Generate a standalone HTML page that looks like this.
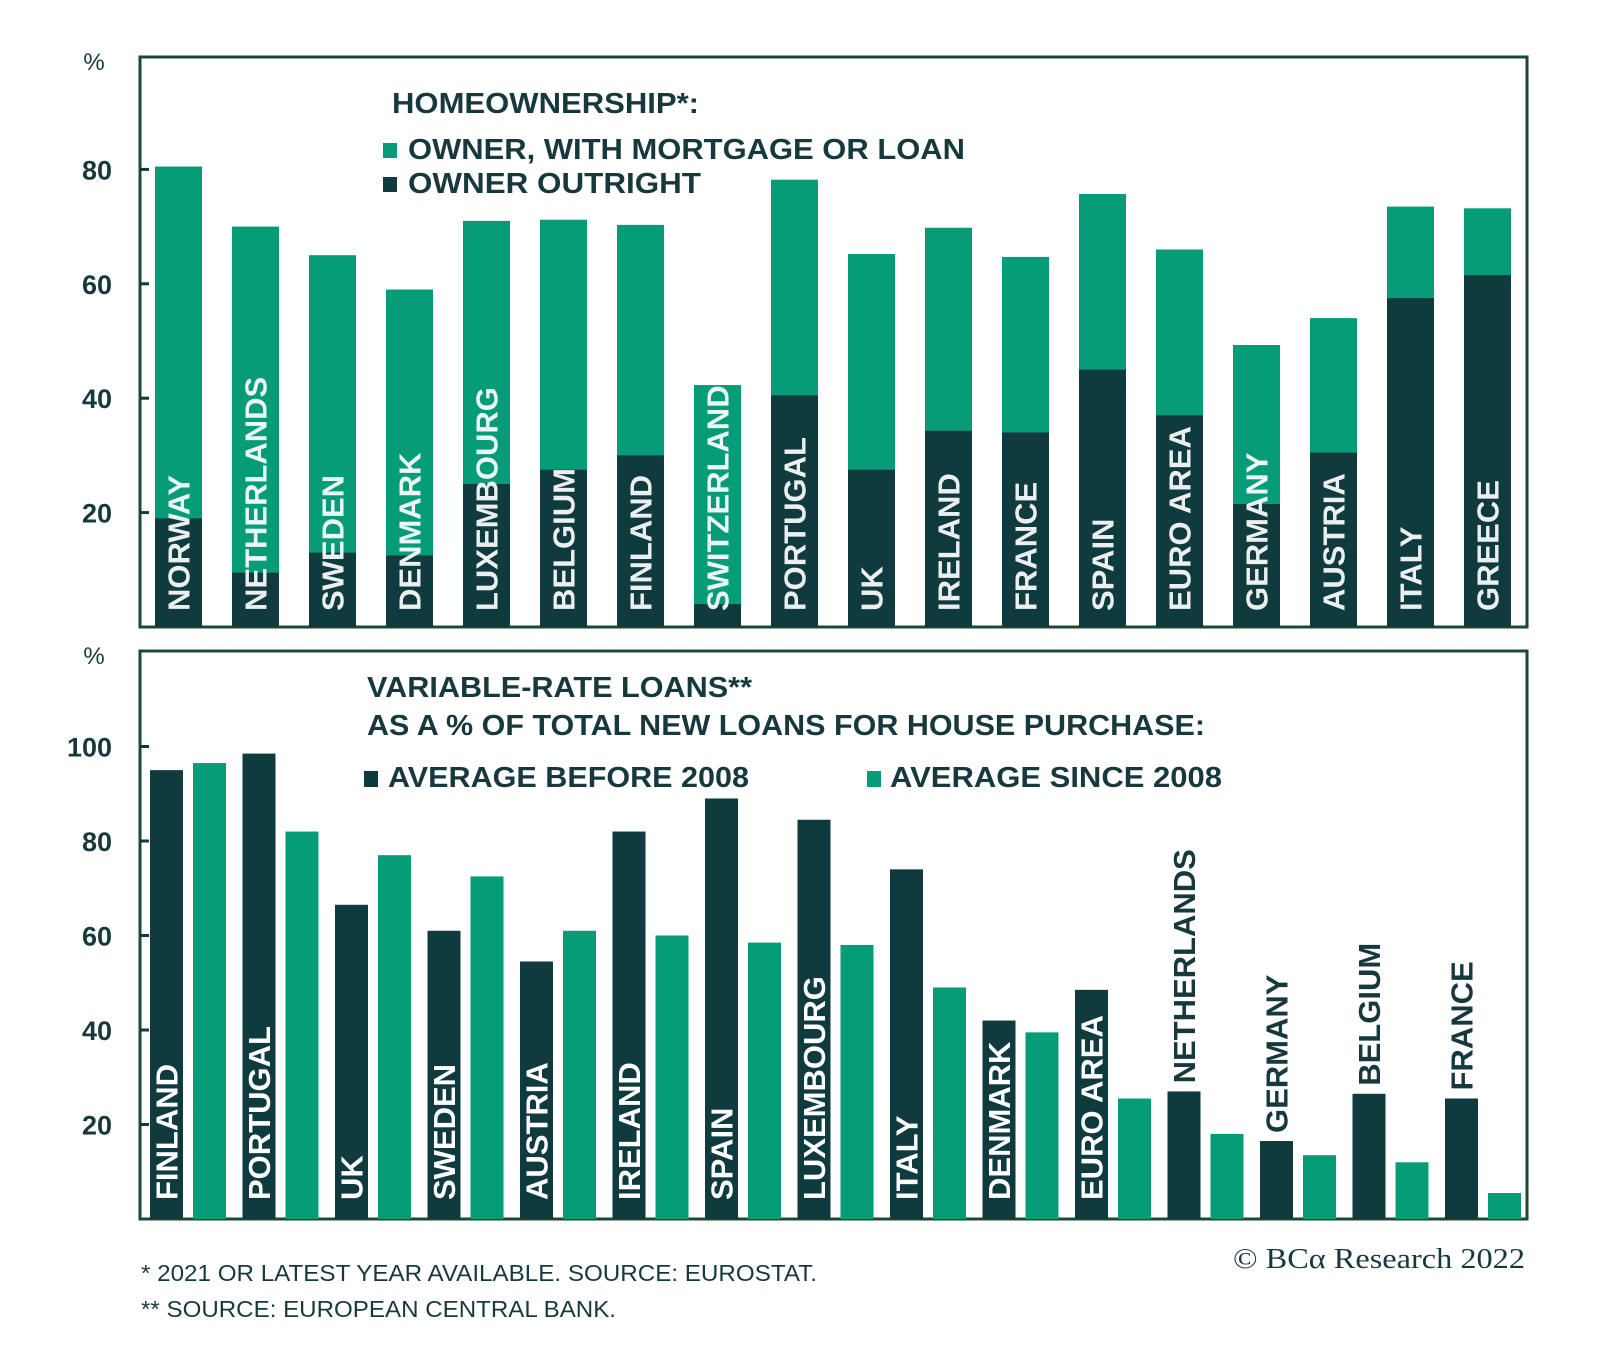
<!DOCTYPE html>
<html><head><meta charset="utf-8"><style>
html,body{margin:0;padding:0;background:#fff;}
svg{display:block;font-family:"Liberation Sans",sans-serif;}
</style></head><body>
<svg id="chart" width="1600" height="1354" viewBox="0 0 1600 1354">
<g id="top"></g>
<g id="bot"></g>
<g fill="#17393d">
<text x="392" y="113" font-size="29" font-weight="bold" textLength="307" lengthAdjust="spacingAndGlyphs">HOMEOWNERSHIP*:</text>
<rect x="383" y="143" width="14" height="15" fill="#069c77"/>
<text x="408" y="159" font-size="29" font-weight="bold" textLength="557" lengthAdjust="spacingAndGlyphs">OWNER, WITH MORTGAGE OR LOAN</text>
<rect x="383" y="177" width="14" height="15" fill="#0f3a3e"/>
<text x="408" y="193" font-size="29" font-weight="bold" textLength="293" lengthAdjust="spacingAndGlyphs">OWNER OUTRIGHT</text>
</g>
<g fill="#17393d">
<text x="367" y="697" font-size="29" font-weight="bold" textLength="385" lengthAdjust="spacingAndGlyphs">VARIABLE-RATE LOANS**</text>
<text x="367" y="735" font-size="29" font-weight="bold" textLength="838" lengthAdjust="spacingAndGlyphs">AS A % OF TOTAL NEW LOANS FOR HOUSE PURCHASE:</text>
<rect x="364" y="771" width="14" height="16" fill="#0f3a3e"/>
<text x="388" y="787" font-size="29" font-weight="bold" textLength="361" lengthAdjust="spacingAndGlyphs">AVERAGE BEFORE 2008</text>
<rect x="867" y="771" width="14" height="16" fill="#069c77"/>
<text x="890" y="787" font-size="29" font-weight="bold" textLength="332" lengthAdjust="spacingAndGlyphs">AVERAGE SINCE 2008</text>
</g>
<g fill="#17393d">
<text x="141" y="1281" font-size="23" textLength="676" lengthAdjust="spacingAndGlyphs">* 2021 OR LATEST YEAR AVAILABLE. SOURCE: EUROSTAT.</text>
<text x="141" y="1317" font-size="23" textLength="475" lengthAdjust="spacingAndGlyphs">** SOURCE: EUROPEAN CENTRAL BANK.</text>
<text x="1233" y="1268" font-size="29" font-family="Liberation Serif, serif" textLength="292" lengthAdjust="spacingAndGlyphs">© BCα Research 2022</text>
</g>
</svg>
<script>
const topCountries=["NORWAY","NETHERLANDS","SWEDEN","DENMARK","LUXEMBOURG","BELGIUM","FINLAND","SWITZERLAND","PORTUGAL","UK","IRELAND","FRANCE","SPAIN","EURO AREA","GERMANY","AUSTRIA","ITALY","GREECE"];
const topTotal=[80.5,70,65,59,71,71.2,70.3,42.3,78.2,65.2,69.8,64.7,75.7,66,49.3,54,73.5,73.2];
const topOutright=[19,9.5,13,12.5,25,27.5,30,4,40.5,27.5,34.3,34,45,37,21.5,30.5,57.5,61.5];
const topTicks=[20,40,60,80];
const botCountries=["FINLAND","PORTUGAL","UK","SWEDEN","AUSTRIA","IRELAND","SPAIN","LUXEMBOURG","ITALY","DENMARK","EURO AREA","NETHERLANDS","GERMANY","BELGIUM","FRANCE"];
const botBefore=[95,98.5,66.5,61,54.5,82,89,84.5,74,42,48.5,27,16.5,26.5,25.5];
const botSince=[96.5,82,77,72.5,61,60,58.5,58,49,39.5,25.5,18,13.5,12,5.5];
const botTicks=[20,40,60,80,100];

const NS="http://www.w3.org/2000/svg";
const GREEN="#069c77",DARK="#0f3a3e",TXT="#17393d";
function mk(p,tag,at){const e=document.createElementNS(NS,tag);for(const k in at)e.setAttribute(k,at[k]);p.appendChild(e);return e;}

function panel(g,top,bottom,yScale,ticks,name){
  const fr=mk(g,'rect',{x:140,y:top,width:1387,height:bottom-top,fill:'none',stroke:'#1d4a2c','stroke-width':3});
  
  
  const pc=mk(g,'text',{x:94,y:top+13,'font-size':24,fill:TXT,'text-anchor':'middle'});pc.textContent='%';
  
  
  ticks.forEach(t=>{
    const y=yScale(t);
    const l=mk(g,'line',{x1:140,x2:149,y1:y,y2:y,stroke:DARK,'stroke-width':3});
    
    
    const tx=mk(g,'text',{x:112,y:y+10,'font-size':27,'font-weight':'bold',fill:TXT,'text-anchor':'end'});tx.textContent=t;
    
    
  });
}

// top chart
const tg=document.getElementById('top');
const T0=627,TS=5.72;
const ty=v=>T0-v*TS;
const tx=i=>155+i*77;
panel(tg,57,627,ty,topTicks,'top');
topCountries.forEach((c,i)=>{
  const x=tx(i),w=47;
  const r1=mk(tg,'rect',{x:x,y:ty(topTotal[i]),width:w,height:T0-ty(topTotal[i]),fill:GREEN});
  
  
  const r2=mk(tg,'rect',{x:x,y:ty(topOutright[i]),width:w,height:T0-ty(topOutright[i]),fill:DARK});
  
  
  const t=mk(tg,'text',{x:0,y:0,'font-size':31,'font-weight':'bold',fill:'#fff','fill-opacity':0.92,transform:`translate(${x+w/2+11},611) rotate(-90)`});
  t.textContent=c;
  
  
});

// bottom chart
const bg=document.getElementById('bot');
const B0=1219,BS=4.725;
const by=v=>B0-v*BS;
const bx=i=>150+i*92.5;
panel(bg,651,1219,by,botTicks,'bottom');
botCountries.forEach((c,i)=>{
  const x=bx(i),w=33;
  const r1=mk(bg,'rect',{x:x,y:by(botBefore[i]),width:w,height:B0-by(botBefore[i]),fill:DARK});
  
  
  const r2=mk(bg,'rect',{x:x+43,y:by(botSince[i]),width:w,height:B0-by(botSince[i]),fill:GREEN});
  
  
  const inside=i<11;
  const yb=inside?1200:by(botBefore[i])-8;
  const t=mk(bg,'text',{x:0,y:0,'font-size':31,'font-weight':'bold',fill:inside?'#fff':TXT,transform:`translate(${x+w/2+11},${yb}) rotate(-90)`});
  t.textContent=c;
  
  
});
</script>
</body></html>
